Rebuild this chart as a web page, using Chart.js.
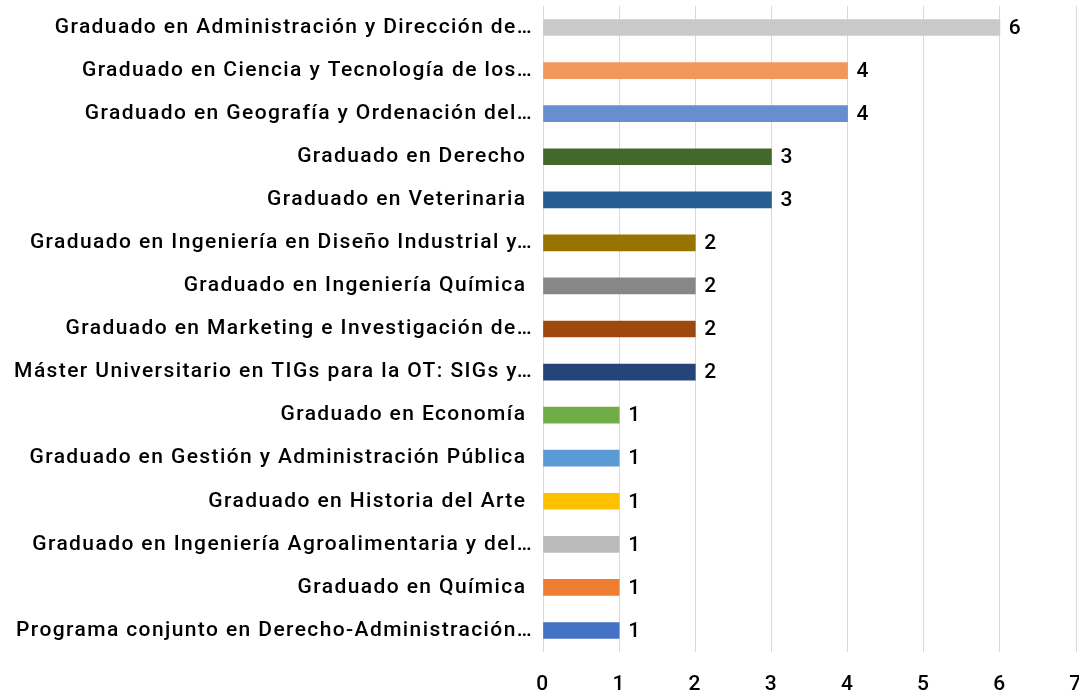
<!DOCTYPE html>
<html>
<head>
<meta charset="utf-8">
<script src="https://cdn.jsdelivr.net/npm/chart.js@4.4.1/dist/chart.umd.min.js"></script>
<style>
  html, body { margin: 0; padding: 0; background: #fff; overflow: hidden; }
  canvas { display: block; }
</style>
</head>
<body>
<canvas id="myChart" width="1079" height="695"></canvas>
<script>
const titulaciones = [
    'Graduado en Administración y Dirección de…',
    'Graduado en Ciencia y Tecnología de los…',
    'Graduado en Geografía y Ordenación del…',
    'Graduado en Derecho ',
    'Graduado en Veterinaria ',
    'Graduado en Ingeniería en Diseño Industrial y…',
    'Graduado en Ingeniería Química ',
    'Graduado en Marketing e Investigación de…',
    'Máster Universitario en TIGs para la OT: SIGs y…',
    'Graduado en Economía ',
    'Graduado en Gestión y Administración Pública ',
    'Graduado en Historia del Arte ',
    'Graduado en Ingeniería Agroalimentaria y del…',
    'Graduado en Química ',
    'Programa conjunto en Derecho-Administración…'
];
const estudiantes = [6, 4, 4, 3, 3, 2, 2, 2, 2, 1, 1, 1, 1, 1, 1];
const colores = [
    '#C9C9C9', '#F1975A', '#698ED0', '#43682B', '#255E91',
    '#997300', '#878787', '#9E480E', '#264478', '#70AD47',
    '#5B9BD5', '#FFC000', '#BBBBBB', '#ED7D31', '#4472C4'
];
const xTicks = [0, 1, 2, 3, 4, 5, 6, 7];

const fontFamily = 'Roboto, "Noto Sans", sans-serif';
const espaciado = '1.4px';

// espaciado de letras para todo el texto del lienzo
const espaciar = {
    id: 'espaciar',
    beforeDraw(chart) {
        chart.ctx.letterSpacing = espaciado;
    }
};

// valores al final de cada barra
const etiquetas = {
    id: 'etiquetas',
    afterDatasetsDraw(chart) {
        const ctx = chart.ctx;
        const meta = chart.getDatasetMeta(0);
        ctx.save();
        ctx.font = '500 21px ' + fontFamily;
        ctx.fillStyle = '#000';
        ctx.textAlign = 'left';
        ctx.textBaseline = 'middle';
        meta.data.forEach((bar, i) => {
            ctx.fillText(String(estudiantes[i]), bar.x + 9, bar.y + 1);
        });
        ctx.restore();
    }
};

const data = {
    labels: titulaciones,
    datasets: [{
        label: 'Estudiantes',
        backgroundColor: colores,
        borderWidth: 0,
        barThickness: 16,
        data: estudiantes,
    }]
};

const config = {
    type: 'bar',
    data: data,
    plugins: [espaciar, etiquetas],
    options: {
        indexAxis: 'y',
        responsive: false,
        animation: false,
        layout: { padding: { top: 6, right: 3, bottom: 0, left: 0 } },
        plugins: {
            legend: { display: false },
            tooltip: { enabled: false }
        },
        scales: {
            x: {
                min: 0,
                max: 7,
                afterBuildTicks: (scale) => { scale.ticks = xTicks.map(v => ({ value: v })); },
                afterFit: (scale) => { scale.paddingRight = 0; scale.paddingLeft = 0; scale.height = 43; },
                grid: { color: '#D9D9D9', lineWidth: 1, drawTicks: false },
                border: { display: false },
                ticks: {
                    color: '#000',
                    padding: 20,
                    font: { family: fontFamily, size: 21, weight: '500' }
                }
            },
            y: {
                afterFit: (scale) => { scale.width = 543; scale.paddingTop = 0; scale.paddingBottom = 0; },
                grid: { display: false, drawTicks: false },
                border: { display: false },
                ticks: {
                    color: '#000',
                    padding: 10,
                    autoSkip: false,
                    font: { family: fontFamily, size: 21, weight: '500' }
                }
            }
        }
    }
};

new Chart(
    document.getElementById('myChart'),
    config
);
</script>
</body>
</html>
